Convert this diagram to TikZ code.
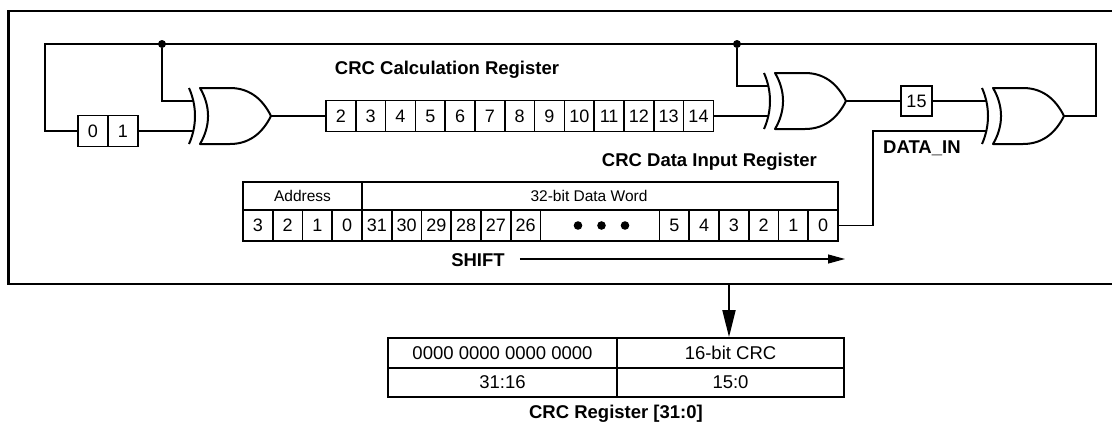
\documentclass[tikz,border=0pt]{standalone}
\usepackage{fontspec}
\setmainfont{Liberation Sans}
\usetikzlibrary{arrows.meta,calc}
\begin{document}
\begin{tikzpicture}[x=1pt,y=-1pt,
  wire/.style={line width=1.1pt},
  gate/.style={line width=2pt, line join=round},
  regbox/.style={draw, line width=1.6pt, minimum width=29.8pt, minimum height=31pt, inner sep=0pt, font=\fontsize{18}{20}\selectfont},
  cell/.style={draw, line width=1.6pt, minimum width=29.75pt, minimum height=31pt, inner sep=0pt, font=\fontsize{18}{20}\selectfont},
  hcell/.style={draw, line width=1.6pt, minimum height=28pt, inner sep=0pt, font=\fontsize{15.5}{17}\selectfont},
  tcell/.style={draw, line width=1.8pt, inner sep=0pt, font=\fontsize{18.5}{20}\selectfont},
  lbl/.style={font=\bfseries\fontsize{18.5}{20}\selectfont, inner sep=0pt},
  jdot/.style={circle, fill, inner sep=0pt, minimum size=8pt},
  xorg/.pic={
    \draw[gate] (0,-28) .. controls (10.7,-10) and (10.7,10) .. (0,28) -- (30,28)
      .. controls (52,28) and (64,14) .. (71,0)
      .. controls (64,-14) and (52,-28) .. (30,-28) -- cycle;
    \draw[gate] (-11,-28) .. controls (-3,-10) and (-3,10) .. (-11,28);
    \coordinate (-in1) at (-6,-15);
    \coordinate (-in2) at (-6,15);
    \coordinate (-out) at (71,0);
  }
]
\useasboundingbox (0,0) rectangle (1112,423);

% outer frame
\draw[line width=2.5pt] (1112,11) -- (8.5,11) -- (8.5,284) -- (1112,284);

% gates
\pic (x1) at (200,116) {xorg};
\pic (x2) at (775,101) {xorg};
\pic (x3) at (993,116) {xorg};

% bit 0,1
\node[regbox] (b0) at (93,131) {0};
\node[regbox] (b1) at (122.8,131) {1};

% CRC calculation register 2..14
\foreach \n [count=\i from 0] in {2,...,14}
  \node[regbox] (r\n) at ({340.9+\i*29.8},116) {\n};

% bit 15
\node[regbox, minimum height=30pt, minimum width=31pt] (b15) at (916.5,101) {15};

% junctions and corners
\node[jdot] (j1) at (162,44) {};
\node[jdot] (j2) at (737,44) {};
\coordinate (tl) at (45,44);
\coordinate (tr) at (1096,44);

% wires
\draw[wire] (b0.west) -| (tl) -- (tr) |- (x3-out);
\draw[wire] (j1) |- (x1-in1);
\draw[wire] (b1.east) -- (x1-in2);
\draw[wire] (x1-out) -- (r2.west);
\draw[wire] (r14.east) -- (x2-in2);
\draw[wire] (j2) |- (x2-in1);
\draw[wire] (x2-out) -- (b15.west);
\draw[wire] (b15.east) -- (x3-in1);

% labels
\node[lbl] (calc) at (447,70) {CRC Calculation Register};
\node[lbl, anchor=east] (dinr) at (817,162) {CRC Data Input Register};
\node[lbl, anchor=west] (din) at (883,148) {DATA\_IN};

% data input register
\node[hcell, minimum width=119pt] (haddr) at (302.5,196) {Address};
\node[hcell, minimum width=476pt] (hdata) at (600,196) {};
\node[font=\fontsize{15.5}{17}\selectfont, inner sep=0pt] (hdatalbl) at (589,196) {32-bit Data Word};
\foreach \lab [count=\k from 0] in {3,2,1,0}
  \node[cell] (a\lab) at ({243+29.75*(\k+0.5)},225.5) {\lab};
\foreach \lab [count=\k from 4] in {31,30,29,28,27,26}
  \node[cell] (d\lab) at ({243+29.75*(\k+0.5)},225.5) {\lab};
\node[cell, minimum width=119pt] (dots) at ({243+29.75*12},225.5) {};
\foreach \lab [count=\k from 14] in {5,4,3,2,1,0}
  \node[cell] (d\lab) at ({243+29.75*(\k+0.5)},225.5) {\lab};
\fill (578,225.5) circle (4.3) (601.5,225.5) circle (4.3) (625,225.5) circle (4.3);

\coordinate (dj) at (873,225.5);
\draw[wire] (d0.east) -- (dj) |- (x3-in2);

% shift
\node[lbl] (shift) at (478,260) {SHIFT};
\coordinate (shiftend) at (845,259);
\draw[wire, -{Triangle[length=17pt,width=9pt]}] ([xshift=15pt]shift.east |- shiftend) -- (shiftend);

% CRC register
\node[tcell, minimum width=229pt, minimum height=30pt] (t1) at (502.5,353) {0000 0000 0000 0000};
\node[tcell, minimum width=227pt, minimum height=30pt] (t2) at (730.5,353) {16-bit CRC};
\node[tcell, minimum width=229pt, minimum height=29pt] (t3) at (502.5,382.5) {31:16};
\node[tcell, minimum width=227pt, minimum height=29pt] (t4) at (730.5,382.5) {15:0};
\node[lbl] (crcreg) at (616,414) {CRC Register [31:0]};

\coordinate (fb) at (729,285);
\draw[line width=1.8pt, -{Triangle[length=27pt,width=13pt]}] (fb) -- (fb |- t2.north);
\end{tikzpicture}
\end{document}
